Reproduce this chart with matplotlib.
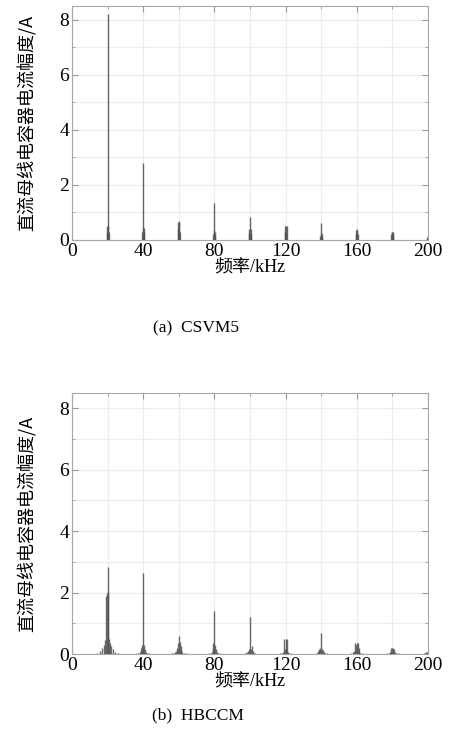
import matplotlib
matplotlib.use("Agg")
import matplotlib.pyplot as plt
from matplotlib.ticker import MultipleLocator

plt.rcParams['font.family'] = ['Liberation Serif', 'Noto Sans CJK SC']
plt.rcParams['mathtext.fontset'] = 'stix'

# Harmonic centres (kHz)
harmonics = [20, 40, 60, 80, 100, 120, 140, 160, 180, 200]

# CSVM5: main peak amplitude at each harmonic (A)
csvm5_peak = [8.2, 2.8, 0.7, 1.35, 0.85, 0.5, 0.6, 0.4, 0.3, 0.15]
# CSVM5 sideband offsets (kHz) and amplitudes (A) around each harmonic
csvm5_sb_offsets = [-0.6, -0.3, 0.3, 0.6]
csvm5_sb_amps = [
    [0.3, 0.5, 0.5, 0.3],
    [0.3, 0.45, 0.45, 0.3],
    [0.4, 0.65, 0.6, 0.3],
    [0.2, 0.35, 0.3, 0.15],
    [0.25, 0.4, 0.4, 0.2],
    [0.5, 0.3, 0.3, 0.5],
    [0.15, 0.25, 0.2, 0.12],
    [0.2, 0.35, 0.3, 0.2],
    [0.2, 0.3, 0.3, 0.2],
    [0.05, 0.1, 0.08, 0.04],
]

# HBCCM: main peak amplitude at each harmonic (A)
hbccm_peak = [2.85, 2.65, 0.6, 1.4, 1.2, 0.5, 0.7, 0.35, 0.2, 0.1]
hbccm_sb_offsets = [-6.0, -4.0, -3.0, -2.0, -1.5, -1.0, -0.5, 0.5, 1.0, 1.5, 2.0, 3.0, 4.0, 6.0]
hbccm_sb_amps = [
    [0.04, 0.1, 0.18, 0.3, 0.45, 1.9, 2.0, 2.05, 0.5, 0.35, 0.25, 0.15, 0.08, 0.04],
    [0.01, 0.02, 0.03, 0.05, 0.1, 0.2, 0.3, 0.3, 0.15, 0.08, 0.04, 0.02, 0.01, 0.01],
    [0.01, 0.02, 0.04, 0.06, 0.1, 0.2, 0.35, 0.4, 0.25, 0.12, 0.06, 0.03, 0.02, 0.01],
    [0.01, 0.01, 0.02, 0.04, 0.08, 0.15, 0.35, 0.3, 0.15, 0.06, 0.03, 0.02, 0.01, 0.01],
    [0.0, 0.01, 0.02, 0.03, 0.05, 0.1, 0.15, 0.15, 0.25, 0.1, 0.04, 0.02, 0.01, 0.0],
    [0.0, 0.01, 0.02, 0.04, 0.08, 0.5, 0.15, 0.15, 0.5, 0.08, 0.04, 0.02, 0.01, 0.0],
    [0.0, 0.01, 0.02, 0.05, 0.1, 0.15, 0.2, 0.15, 0.12, 0.08, 0.04, 0.02, 0.01, 0.0],
    [0.0, 0.01, 0.02, 0.05, 0.1, 0.35, 0.3, 0.35, 0.2, 0.1, 0.04, 0.02, 0.01, 0.0],
    [0.0, 0.01, 0.02, 0.04, 0.06, 0.1, 0.2, 0.2, 0.15, 0.06, 0.03, 0.02, 0.01, 0.0],
    [0.0, 0.01, 0.01, 0.02, 0.04, 0.06, 0.08, 0.1, 0.06, 0.04, 0.02, 0.01, 0.01, 0.0],
]

xticks = [0, 40, 80, 120, 160, 200]
yticks = [0, 2, 4, 6, 8]
ylabel = "直流母线电容器电流幅度/A"
xlabel = "频率/kHz"
captions = ["(a)  CSVM5", "(b)  HBCCM"]

fig = plt.figure(figsize=(4.5, 7.49), dpi=100)
axes = [
    fig.add_axes([0.16, 0.6796, 0.791, 0.3124]),
    fig.add_axes([0.16, 0.1268, 0.791, 0.3485]),
]
cap_pos = [(0.435, 1 - 328 / 749), (0.44, 1 - 715 / 749)]

datasets = [
    (csvm5_peak, csvm5_sb_offsets, csvm5_sb_amps),
    (hbccm_peak, hbccm_sb_offsets, hbccm_sb_amps),
]

for ax, (peaks, offs, amps), cap, cp in zip(axes, datasets, captions, cap_pos):
    for h, p, a in zip(harmonics, peaks, amps):
        xs = [h + o for o in offs]
        ax.vlines(xs, 0, a, colors='#4a4a4a', linewidth=1.0, alpha=0.8, zorder=3)
        ax.vlines([h], 0, [p], colors='#555555', linewidth=1.0, alpha=0.9, zorder=4)
    ax.set_xlim(0, 200)
    ax.set_ylim(0, 8.5)
    ax.set_xticks(xticks)
    ax.set_yticks(yticks)
    ax.xaxis.set_minor_locator(MultipleLocator(20))
    ax.yaxis.set_minor_locator(MultipleLocator(1))
    ax.grid(True, which='both', color='#ececec', linewidth=0.8, zorder=0)
    ax.set_axisbelow(True)
    ax.tick_params(which='both', direction='in', top=True, right=True,
                   labelsize=14, color='#999999', pad=2)
    ax.tick_params(which='major', length=4)
    ax.tick_params(which='minor', length=2.5)
    for s in ax.spines.values():
        s.set_color('#a8a8a8')
        s.set_linewidth(0.8)
    ax.set_xlabel(xlabel, fontsize=13, labelpad=0,
                  family=['Liberation Serif', 'Noto Sans CJK SC'])
    ax.set_ylabel(ylabel, fontsize=13, labelpad=16,
                  family=['Noto Sans CJK SC', 'Liberation Serif'])
    fig.text(cp[0], cp[1], cap, ha='center', va='center', fontsize=12.5)

fig.savefig("out.png", dpi=100)
